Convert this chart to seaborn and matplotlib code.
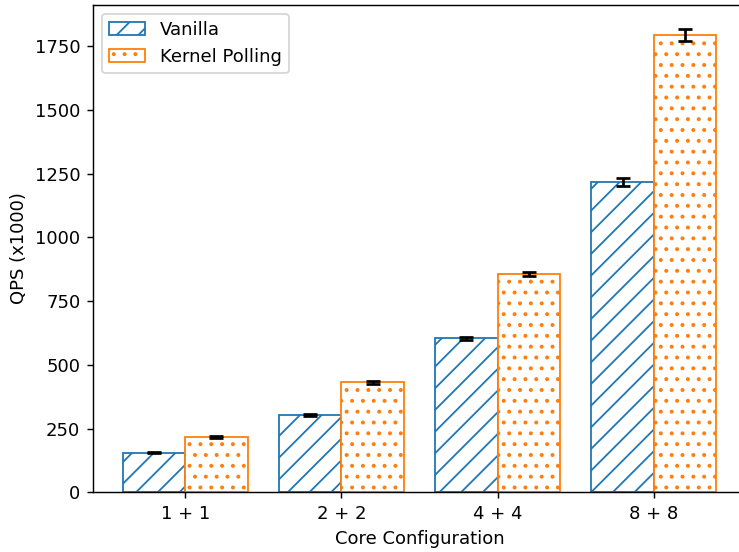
import matplotlib
matplotlib.use("Agg")
import matplotlib.pyplot as plt
import matplotlib.patches as mpatches
import seaborn as sns
import pandas as pd

configs = ["1 + 1", "2 + 2", "4 + 4", "8 + 8"]
vanilla = [155, 303, 604, 1218]
kernel_polling = [216, 431, 857, 1793]
vanilla_err = [2, 3, 6, 15]
kernel_err = [3, 5, 8, 23]
series = ["Vanilla", "Kernel Polling"]

df = pd.DataFrame({
    "Core Configuration": configs * 2,
    "QPS": vanilla + kernel_polling,
    "Series": [series[0]] * 4 + [series[1]] * 4,
})

colors = ["#1f77b4", "#ff7f0e"]
hatches = ["//", ".."]

DPI = 130
fig = plt.figure(figsize=(739 / DPI, 552 / DPI), dpi=DPI)
ax = fig.add_axes([93 / 739, (552 - 492.3) / 552, (746 - 93) / 739, (492.3 - 4.7) / 552])
sns.barplot(data=df, x="Core Configuration", y="QPS", hue="Series",
            palette=colors, errorbar=None, ax=ax, legend=False,
            saturation=1, width=0.8)

errs = {series[0]: vanilla_err, series[1]: kernel_err}
for si, (container, s) in enumerate(zip(ax.containers, series)):
    xs, ys = [], []
    for patch in container:
        patch.set_facecolor("white")
        patch.set_edgecolor(colors[si])
        patch.set_hatch(hatches[si])
        patch.set_linewidth(1.0)
        xs.append(patch.get_x() + patch.get_width() / 2)
        ys.append(patch.get_height())
    ax.errorbar(xs, ys, yerr=errs[s], fmt="none", ecolor="black",
                capsize=4, elinewidth=1.5, capthick=1.5)

ax.set_xlim(-0.59, 3.59)
ax.set_ylim(0, 1912)
ax.set_ylabel("QPS (x1000)")
ax.set_xlabel("Core Configuration")

handles = [mpatches.Patch(facecolor="white", edgecolor=colors[i],
                          hatch=hatches[i], label=series[i]) for i in range(2)]
ax.legend(handles=handles, loc="upper left")

fig.savefig("out.png", dpi=DPI)
